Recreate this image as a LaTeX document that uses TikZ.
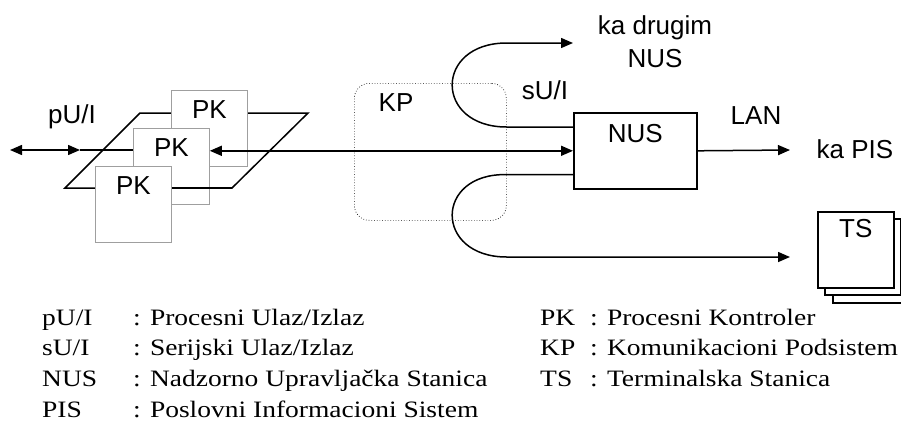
\documentclass[tikz,border=0pt]{standalone}
\usepackage{fontspec}
\setmainfont{Liberation Sans}
\newfontfamily\legendfont[FakeStretch=1.17]{Liberation Serif}
\usetikzlibrary{arrows.meta,positioning,calc}

\begin{document}
\begin{tikzpicture}[x=1pt, y=-1pt, >={Triangle[length=12pt,width=10pt]}, font=\fontsize{26}{33}\selectfont]
\tikzset{pk/.style={draw=gray!75, line width=0.8pt, fill=white, minimum width=76pt, minimum height=76pt, inner sep=3pt, text height=25pt, text depth=45pt}, nus/.style={draw, line width=1.6pt, fill=white, minimum width=123pt, minimum height=76pt, inner sep=3pt, text height=27pt, text depth=43pt}, ts/.style={nus, minimum width=76pt, text height=23pt, text depth=47pt}, kp/.style={draw, dotted, line width=0.7pt, rounded corners=15pt, minimum width=152pt, minimum height=137pt}, wire/.style={line width=1.5pt}, leg/.style={inner sep=0pt, anchor=base west, font=\legendfont\fontsize{23.5}{30}\selectfont}}
\useasboundingbox (0,0) rectangle (901,421);
% process bus plane, process controllers
\draw[wire] (65,188) -- (232,188) -- (308,113) -- (140,113) -- cycle;
\node[pk, anchor=north west] (PKa) at (171,90) {PK};
\node[pk, anchor=north west] (PKb) at (133,128) {PK};
\draw[wire] (171,188) -- (232,188);
\node[pk, anchor=north west] (PKc) at (95,166) {PK};
% communication subsystem, station
\node[kp, anchor=north west] (KP) at (354,83) {};
\node (kplab) at (396,103) {KP};
\node[nus, anchor=north west] (NUS) at (573,112) {NUS};
\node[ts, anchor=north west] (TSc) at (832,226) {};
\node[ts, anchor=north west] (TSb) at (824,218) {};
\node[ts, anchor=north west] (TSa) at (817,211) {TS};
\node[anchor=base] (pui) at (72,123) {pU/I};
\node (sui) at (545,90) {sU/I};
\node[align=center] (drugi) at (655,42) {ka drugim\\NUS};
\node (lan) at (756,116) {LAN};
\node (kapis) at (855,149) {ka PIS};
% connectors
\coordinate (lend) at (10,150);
\coordinate (lmid) at (80,150);
\coordinate (toNUS) at (573,43);
\coordinate (toPIS) at (790,150);
\coordinate (toTS) at (790,257);
\draw[wire,<->] (lend) -- (lmid);
\draw[wire] (lmid) -- (PKb.west |- lmid);
\draw[wire,<->] (PKb.east |- NUS.west) -- (NUS.west);
\draw[wire,->] (NUS.east) -- (toPIS);
\draw[wire,->] ($(NUS.north west)+(0,15)$) -- ($(KP.east |- NUS.north)+(0,15)$) .. controls (434,127) and (434,43) .. (KP.east |- toNUS) -- (toNUS);
\draw[wire,->] ($(NUS.south west)+(0,-15)$) -- ($(KP.east |- NUS.south)+(0,-15)$) .. controls (434,173) and (434,257) .. (KP.east |- toTS) -- (toTS);
% legend
\foreach \ab/\txt [count=\i] in {{pU/I}/{Procesni Ulaz/Izlaz}, {sU/I}/{Serijski Ulaz/Izlaz}, NUS/{Nadzorno Upravljačka Stanica}, PIS/{Poslovni Informacioni Sistem}} {
  \node[leg] (la\i) at (42,294.3+30.7*\i) {\ab};
  \node[leg] (lb\i) at (133,294.3+30.7*\i) {: \txt};
}
\foreach \ab/\txt [count=\i] in {PK/{Procesni Kontroler}, KP/{Komunikacioni Podsistem}, TS/{Terminalska Stanica}} {
  \node[leg] (lc\i) at (540,294.3+30.7*\i) {\ab};
  \node[leg] (ld\i) at (590,294.3+30.7*\i) {: \txt};
}
\end{tikzpicture}
\end{document}
